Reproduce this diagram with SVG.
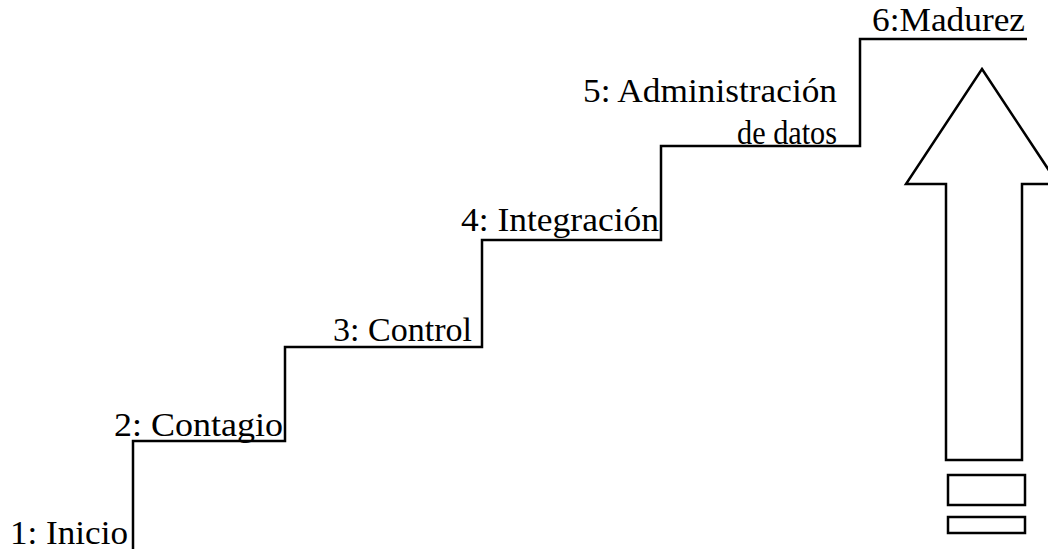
<svg xmlns="http://www.w3.org/2000/svg" width="1048" height="549" viewBox="0 0 1048 549">
  <style>
    .line { fill: none; stroke: #000; stroke-width: 2.5; stroke-linejoin: miter; }
    .shape { fill: #fff; stroke: #000; stroke-width: 2.5; stroke-linejoin: miter; }
    .label { font-size: 34px; fill: #000; text-anchor: end; }
  </style>
  <rect width="1048" height="549" fill="#fff"/>

  <!-- staircase -->
  <g id="connectors">
    <path class="line" d="M133,549 V441 H285 V347 H482 V240 H661 V146 H860 V39 H1027"/>
  </g>

  <!-- step labels -->
  <g font-family="Liberation Serif, Tinos, Times New Roman, DejaVu Serif, serif">
    <g id="step1"><text class="label" x="128" y="544" textLength="118" lengthAdjust="spacingAndGlyphs">1: Inicio</text></g>
    <g id="step2"><text class="label" x="283" y="436" textLength="169" lengthAdjust="spacingAndGlyphs">2: Contagio</text></g>
    <g id="step3"><text class="label" x="472" y="341" textLength="139" lengthAdjust="spacingAndGlyphs">3: Control</text></g>
    <g id="step4"><text class="label" x="659" y="231" textLength="198" lengthAdjust="spacingAndGlyphs">4: Integración</text></g>
    <g id="step5">
      <text class="label" x="837" y="102" textLength="254" lengthAdjust="spacingAndGlyphs">5: Administración</text>
      <text class="label" x="837" y="144" textLength="100" lengthAdjust="spacingAndGlyphs">de datos</text>
    </g>
    <g id="step6"><text class="label" x="1025" y="31" textLength="153" lengthAdjust="spacingAndGlyphs">6:Madurez</text></g>
  </g>

  <!-- upward arrow with base bars -->
  <g id="arrow">
    <polygon class="shape" points="982,69 1058,184 1022,184 1022,460 946,460 946,184 906,184"/>
    <rect class="shape" x="948" y="475" width="77" height="30"/>
    <rect class="shape" x="948" y="517" width="77" height="16"/>
  </g>
</svg>
